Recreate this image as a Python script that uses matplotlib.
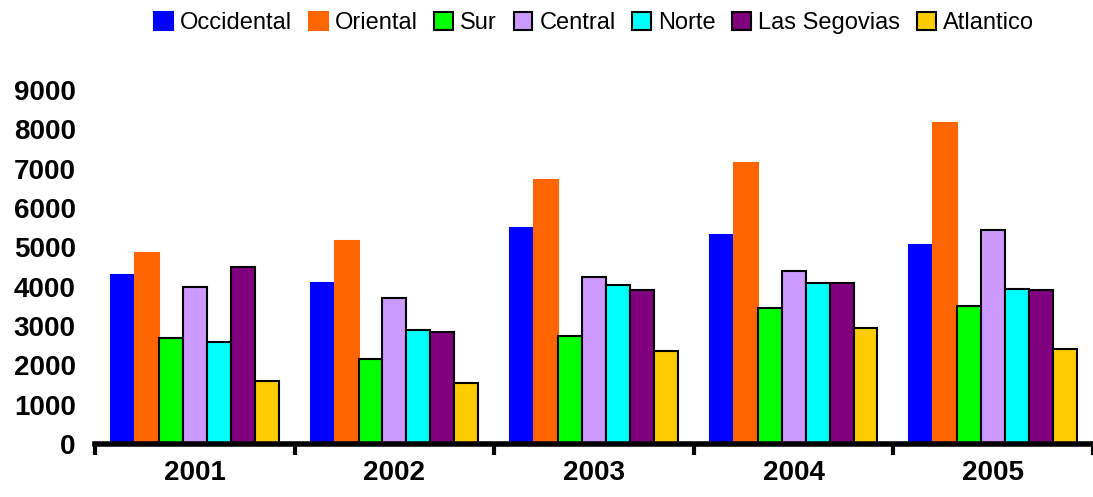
import matplotlib.pyplot as plt
import numpy as np

plt.rcParams['font.family'] = ['Liberation Sans', 'DejaVu Sans']

years = ['2001', '2002', '2003', '2004', '2005']
regions = ['Occidental', 'Oriental', 'Sur', 'Central', 'Norte', 'Las Segovias', 'Atlantico']
colors = ['#0000FF', '#FF6600', '#00FF00', '#CC99FF', '#00FFFF', '#800080', '#FFCC00']

occidental = [4300, 4100, 5500, 5300, 5050]
oriental = [4850, 5150, 6700, 7150, 8150]
sur = [2700, 2150, 2750, 3450, 3500]
central = [4000, 3700, 4250, 4400, 5450]
norte = [2600, 2900, 4050, 4100, 3950]
segovias = [4500, 2850, 3900, 4100, 3900]
atlantico = [1600, 1550, 2350, 2950, 2400]

series = [occidental, oriental, sur, central, norte, segovias, atlantico]


def draw_chart():
    fig = plt.figure(figsize=(10.93, 4.97), dpi=100)
    ax = fig.add_axes([0.087, 0.107, 0.913, 0.712])

    x = np.arange(len(years))
    width = 0.12
    for i, (name, vals, col) in enumerate(zip(regions, series, colors)):
        offs = (i - 3) * width
        # the first two series have no black outline
        edge = col if i < 2 else 'black'
        ax.bar(x + offs, vals, width, color=col, edgecolor=edge,
               linewidth=1.5, label=name)

    ax.set_xlim(-0.5, len(years) - 0.5)
    ax.set_ylim(0, 9000)
    ax.set_yticks(range(0, 9001, 1000))
    ax.set_xticks(x)
    ax.set_xticklabels(years)
    ax.set_xticks(np.arange(-0.5, len(years)), minor=True)

    for side in ['top', 'right', 'left']:
        ax.spines[side].set_visible(False)
    ax.spines['bottom'].set_linewidth(4)

    ax.tick_params(axis='x', which='major', length=0, pad=12)
    ax.tick_params(axis='x', which='minor', length=8, width=3)
    ax.tick_params(axis='y', length=0, pad=14)
    for lab in ax.get_xticklabels() + ax.get_yticklabels():
        lab.set_fontsize(20)
        lab.set_fontweight('bold')

    ax.legend(loc='center', bbox_to_anchor=(0.5, 1.19), ncol=7,
              frameon=False, fontsize=17, handlelength=0.8, handleheight=0.8,
              handletextpad=0.3, columnspacing=0.7)

    fig.savefig('out.png', dpi=100)


if __name__ == '__main__':
    draw_chart()
